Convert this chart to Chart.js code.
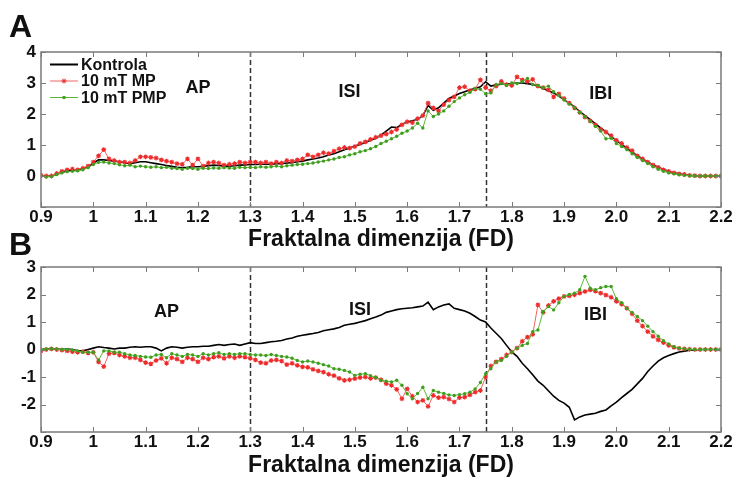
<!DOCTYPE html>
<html lang="en">
<head>
<meta charset="UTF-8" />
<title>Fraktalna dimenzija (FD)</title>
<script src="https://cdn.jsdelivr.net/npm/chart.js"></script>
<style>
  body { margin: 0; background: #fff; overflow: hidden; }
  .panel { position: absolute; left: 0; width: 732px; }
  #panelA { top: 0; height: 255px; }
  #panelB { top: 225px; height: 252px; }
</style>
</head>
<body>

<div class="panel" id="panelA"><canvas id="chartA"></canvas></div>
<div class="panel" id="panelB"><canvas id="chartB"></canvas></div>

<script>
  // fractal dimension grid (x)
  const fdValues = [
    0.90,0.91,0.92,0.93,0.94,0.95,0.96,0.97,0.98,0.99,
    1.00,1.01,1.02,1.03,1.04,1.05,1.06,1.07,1.08,1.09,
    1.10,1.11,1.12,1.13,1.14,1.15,1.16,1.17,1.18,1.19,
    1.20,1.21,1.22,1.23,1.24,1.25,1.26,1.27,1.28,1.29,
    1.30,1.31,1.32,1.33,1.34,1.35,1.36,1.37,1.38,1.39,
    1.40,1.41,1.42,1.43,1.44,1.45,1.46,1.47,1.48,1.49,
    1.50,1.51,1.52,1.53,1.54,1.55,1.56,1.57,1.58,1.59,
    1.60,1.61,1.62,1.63,1.64,1.65,1.66,1.67,1.68,1.69,
    1.70,1.71,1.72,1.73,1.74,1.75,1.76,1.77,1.78,1.79,
    1.80,1.81,1.82,1.83,1.84,1.85,1.86,1.87,1.88,1.89,
    1.90,1.91,1.92,1.93,1.94,1.95,1.96,1.97,1.98,1.99,
    2.00,2.01,2.02,2.03,2.04,2.05,2.06,2.07,2.08,2.09,
    2.10,2.11,2.12,2.13,2.14,2.15,2.16,2.17,2.18,2.19,
    2.20
  ];

  const xTickValues = [0.9,1.0,1.1,1.2,1.3,1.4,1.5,1.6,1.7,1.8,1.9,2.0,2.1,2.2];
  const xTickLabels = ['0.9','1','1.1','1.2','1.3','1.4','1.5','1.6','1.7','1.8','1.9','2.0','2.1','2.2'];
  const seriesNames = ['Kontrola', '10 mT MP', '10 mT PMP'];
  const boundaries = [1.3, 1.75];
  const regionNames = ['AP', 'ISI', 'IBI'];

  // panel A
  const kontrolaA = [
    0,0,0,0.05,0.12,0.17,0.19,0.20,0.23,0.30,
    0.42,0.52,0.52,0.50,0.48,0.46,0.43,0.40,0.43,0.46,
    0.46,0.43,0.40,0.37,0.34,0.31,0.28,0.27,0.28,0.30,
    0.30,0.31,0.33,0.35,0.34,0.32,0.32,0.33,0.35,0.36,
    0.37,0.37,0.38,0.38,0.38,0.40,0.40,0.42,0.43,0.46,
    0.48,0.52,0.55,0.58,0.62,0.68,0.72,0.78,0.85,0.90,
    0.97,1.02,1.08,1.15,1.22,1.32,1.45,1.58,1.56,1.66,
    1.74,1.78,1.82,1.95,2.28,2.12,2.20,2.35,2.50,2.58,
    2.66,2.72,2.78,2.82,2.88,3.04,2.90,2.94,2.96,2.97,
    2.98,3.00,3.00,2.98,2.95,2.90,2.82,2.75,2.68,2.58,
    2.46,2.35,2.22,2.08,1.95,1.82,1.68,1.55,1.42,1.28,
    1.15,1.02,0.90,0.78,0.66,0.55,0.45,0.36,0.28,0.21,
    0.15,0.10,0.07,0.04,0.02,0.01,0,0,0,0,
    0
  ];
  const mpA = [
    0.02,0,0,0.08,0.15,0.20,0.22,0.20,0.25,0.32,
    0.45,0.65,0.85,0.55,0.50,0.45,0.45,0.42,0.50,0.62,
    0.62,0.60,0.58,0.52,0.48,0.45,0.40,0.38,0.55,0.35,
    0.55,0.32,0.42,0.45,0.42,0.35,0.38,0.40,0.45,0.42,
    0.45,0.45,0.42,0.45,0.40,0.45,0.42,0.50,0.48,0.52,
    0.55,0.68,0.62,0.68,0.75,0.72,0.80,0.88,0.92,0.90,
    0.95,1.05,1.10,1.18,1.25,1.30,1.35,1.42,1.50,1.65,
    1.75,1.72,1.85,1.95,2.35,2.20,2.10,2.30,2.45,2.55,
    2.85,2.88,2.75,2.80,3.10,2.85,2.75,2.90,3.05,2.95,
    2.92,3.20,3.10,3.05,3.12,2.90,2.85,2.78,2.55,2.65,
    2.50,2.35,2.20,2.05,1.90,1.78,1.65,1.50,1.42,1.30,
    1.15,1.05,0.92,0.82,0.65,0.55,0.45,0.35,0.28,0.20,
    0.15,0.10,0.07,0.05,0.02,0.01,0,0,0,0,
    0
  ];
  const pmpA = [
    0,-0.03,-0.02,0.05,0.10,0.14,0.15,0.17,0.20,0.27,
    0.37,0.44,0.45,0.42,0.40,0.36,0.33,0.35,0.30,0.32,
    0.30,0.28,0.30,0.27,0.28,0.25,0.24,0.22,0.25,0.24,
    0.22,0.25,0.24,0.26,0.25,0.27,0.26,0.25,0.28,0.27,
    0.28,0.27,0.30,0.28,0.30,0.32,0.30,0.33,0.35,0.37,
    0.38,0.40,0.42,0.45,0.48,0.52,0.55,0.60,0.62,0.68,
    0.72,0.78,0.82,0.88,0.95,1.05,1.12,1.20,1.28,1.38,
    1.45,1.55,1.70,1.55,2.10,1.92,2.00,2.10,2.25,2.40,
    2.52,2.62,2.70,2.82,2.80,2.65,2.68,2.95,2.98,2.92,
    3.00,2.98,3.05,3.15,2.95,2.92,2.85,2.90,2.72,2.60,
    2.45,2.32,2.20,2.05,1.92,1.76,1.60,1.45,1.20,1.22,
    1.05,0.95,0.85,0.72,0.60,0.50,0.40,0.30,0.22,0.15,
    0.10,0.07,0.04,0.02,0.01,0,0,0,0,0,
    0
  ];

  // panel B
  const kontrolaB = [
    0,0.02,0.03,0.02,0,0.02,0,-0.05,-0.05,0,
    0.05,0.10,0.07,0.05,0.02,0.05,0.05,0.08,0.10,0.08,
    0.10,0.10,0.05,-0.05,0.05,0.10,0.08,0.05,0.08,0.10,
    0.10,0.12,0.12,0.15,0.18,0.15,0.18,0.20,0.15,0.20,
    0.25,0.22,0.22,0.25,0.28,0.30,0.33,0.38,0.42,0.48,
    0.52,0.55,0.58,0.62,0.68,0.72,0.75,0.80,0.88,0.92,
    0.95,1.00,1.05,1.12,1.18,1.25,1.35,1.40,1.45,1.48,
    1.50,1.52,1.55,1.58,1.72,1.45,1.55,1.62,1.66,1.50,
    1.45,1.40,1.32,1.20,1.07,1.00,0.78,0.59,0.40,0.15,
    -0.09,-0.25,-0.50,-0.70,-0.92,-1.15,-1.30,-1.50,-1.70,-1.85,
    -1.95,-2.10,-2.56,-2.45,-2.38,-2.35,-2.32,-2.25,-2.20,-2.05,
    -1.91,-1.75,-1.60,-1.45,-1.25,-1.05,-0.80,-0.60,-0.42,-0.30,
    -0.22,-0.15,-0.09,-0.06,-0.03,-0.02,0,0,0,0,
    0
  ];
  const mpB = [
    -0.05,0,0.02,0,-0.02,-0.05,-0.08,-0.10,-0.08,-0.12,
    -0.10,-0.45,-0.62,-0.15,-0.12,-0.20,-0.25,-0.30,-0.30,-0.38,
    -0.48,-0.52,-0.40,-0.32,-0.50,-0.30,-0.35,-0.45,-0.30,-0.35,
    -0.45,-0.30,-0.35,-0.28,-0.25,-0.32,-0.25,-0.30,-0.25,-0.28,
    -0.32,-0.38,-0.48,-0.50,-0.40,-0.38,-0.42,-0.55,-0.50,-0.58,
    -0.63,-0.65,-0.72,-0.78,-0.82,-0.90,-0.95,-1.05,-1.12,-1.10,
    -1.06,-1.02,-1.00,-1.05,-1.02,-1.10,-1.24,-1.30,-1.45,-1.79,
    -1.43,-1.70,-1.91,-1.85,-2.07,-1.67,-1.75,-1.73,-1.80,-1.91,
    -1.75,-1.73,-1.65,-1.55,-1.49,-1.00,-0.60,-0.45,-0.35,-0.20,
    -0.09,0.05,0.30,0.45,0.55,1.62,1.35,1.60,1.75,1.85,
    1.93,1.95,1.99,2.05,2.11,2.17,2.12,2.05,1.98,1.90,
    1.75,1.65,1.50,1.30,1.05,0.85,0.65,0.48,0.35,0.25,
    0.15,0.08,0.04,0.02,0.01,0,0,0,0,0,
    0
  ];
  const pmpB = [
    0,0.02,0.03,0.02,0,0,-0.02,-0.05,-0.10,-0.10,
    -0.10,-0.38,-0.05,-0.05,-0.10,-0.10,-0.15,-0.20,-0.22,-0.25,
    -0.27,-0.28,-0.20,-0.18,-0.30,-0.15,-0.20,-0.25,-0.18,-0.20,
    -0.25,-0.15,-0.20,-0.15,-0.12,-0.18,-0.15,-0.18,-0.15,-0.15,
    -0.18,-0.20,-0.20,-0.22,-0.18,-0.22,-0.25,-0.27,-0.32,-0.40,
    -0.45,-0.42,-0.45,-0.50,-0.55,-0.60,-0.70,-0.72,-0.76,-0.82,
    -0.94,-0.90,-0.88,-0.95,-1.02,-1.12,-1.15,-1.18,-1.12,-1.30,
    -1.61,-1.79,-1.60,-1.37,-1.79,-1.49,-1.55,-1.60,-1.65,-1.67,
    -1.64,-1.61,-1.55,-1.43,-1.20,-0.88,-0.70,-0.45,-0.40,-0.25,
    -0.09,0.05,0.15,0.22,0.65,0.71,1.38,1.56,1.44,1.70,
    1.93,2.00,2.05,2.17,2.66,2.23,2.17,2.25,2.29,2.29,
    1.85,1.70,1.50,1.35,1.20,1.05,0.85,0.65,0.48,0.32,
    0.20,0.10,0.05,0.02,0.01,0,0,0,0,0,
    0
  ];

  // region label anchor points (data coords)
  const regionPosA = [[1.20, 2.87], [1.49, 2.74], [1.97, 2.69]];
  const regionPosB = [[1.14, 1.39], [1.51, 1.46], [1.96, 1.28]];

  const FONT = "'Liberation Sans', Arial, sans-serif";
  const RED = '#ee2a2a';
  const RED_LINE = '#f26262';
  const GREEN = '#3f9e1e';
  const GREEN_LINE = '#5bb83a';
  const FRAME = '#7a7a7a';

  function toPoints(arr) {
    return arr.map((v, i) => ({ x: fdValues[i], y: v }));
  }

  function drawStar(ctx, x, y, r) {
    ctx.beginPath();
    ctx.moveTo(x - r, y); ctx.lineTo(x + r, y);
    ctx.moveTo(x, y - r); ctx.lineTo(x, y + r);
    ctx.moveTo(x - r * 0.7, y - r * 0.7); ctx.lineTo(x + r * 0.7, y + r * 0.7);
    ctx.moveTo(x - r * 0.7, y + r * 0.7); ctx.lineTo(x + r * 0.7, y - r * 0.7);
    ctx.stroke();
  }

  const panelDecor = {
    id: 'panelDecor',
    beforeDatasetsDraw(chart, args, opts) {
      const { ctx, chartArea, scales } = chart;
      ctx.save();
      ctx.strokeStyle = '#333';
      ctx.lineWidth = 1.5;
      ctx.setLineDash([5, 3]);
      boundaries.forEach(b => {
        const px = Math.round(scales.x.getPixelForValue(b)) + 0.5;
        ctx.beginPath();
        ctx.moveTo(px, chartArea.top);
        ctx.lineTo(px, chartArea.bottom);
        ctx.stroke();
      });
      ctx.restore();
    },
    afterDraw(chart, args, opts) {
      const { ctx, chartArea, scales } = chart;
      const { left, right, top, bottom } = chartArea;
      ctx.save();
      // frame
      ctx.strokeStyle = FRAME;
      ctx.lineWidth = 1.5;
      ctx.strokeRect(left, top, right - left, bottom - top);
      // inward ticks
      ctx.lineWidth = 1;
      ctx.beginPath();
      xTickValues.forEach(v => {
        const px = Math.round(scales.x.getPixelForValue(v)) + 0.5;
        ctx.moveTo(px, bottom); ctx.lineTo(px, bottom - 5);
        ctx.moveTo(px, top); ctx.lineTo(px, top + 5);
      });
      scales.y.ticks.forEach(t => {
        const py = Math.round(scales.y.getPixelForValue(t.value)) + 0.5;
        ctx.moveTo(left, py); ctx.lineTo(left + 5, py);
        ctx.moveTo(right, py); ctx.lineTo(right - 5, py);
      });
      ctx.stroke();

      // region labels
      ctx.fillStyle = '#111';
      ctx.font = 'bold 18px ' + FONT;
      ctx.textAlign = 'center';
      ctx.textBaseline = 'middle';
      opts.regions.forEach((p, i) => {
        ctx.fillText(regionNames[i], scales.x.getPixelForValue(p[0]), scales.y.getPixelForValue(p[1]) + 1);
      });

      // panel letter
      ctx.font = 'bold 32px ' + FONT;
      ctx.textAlign = 'left';
      ctx.textBaseline = 'alphabetic';
      ctx.fillText(opts.letter, 9, opts.letterY);

      // legend (panel A only)
      if (opts.legend) {
        const styles = [
          { line: '#000', width: 2, marker: null },
          { line: RED_LINE, width: 1, marker: 'star' },
          { line: GREEN_LINE, width: 1, marker: 'dot' }
        ];
        ctx.font = 'bold 16px ' + FONT;
        ctx.textBaseline = 'middle';
        seriesNames.forEach((name, i) => {
          const y = 64.5 + i * 16.5;
          const s = styles[i];
          ctx.strokeStyle = s.line;
          ctx.lineWidth = s.width;
          ctx.beginPath();
          ctx.moveTo(50, y); ctx.lineTo(78, y);
          ctx.stroke();
          if (s.marker === 'star') {
            ctx.strokeStyle = RED; ctx.lineWidth = 1;
            drawStar(ctx, 64, y, 2.5);
          } else if (s.marker === 'dot') {
            ctx.fillStyle = GREEN;
            ctx.beginPath(); ctx.arc(64, y, 1.8, 0, Math.PI * 2); ctx.fill();
          }
          ctx.fillStyle = '#111';
          ctx.fillText(name, 81, y + 1);
        });
      }
      ctx.restore();
    }
  };

  function makeChart(canvasId, series, cfg) {
    const ctx = document.getElementById(canvasId).getContext('2d');
    return new Chart(ctx, {
      type: 'line',
      data: {
        datasets: [
          {
            label: seriesNames[0],
            data: toPoints(series[0]),
            borderColor: '#000',
            borderWidth: 1.6,
            pointRadius: 0,
            tension: 0,
            order: 3
          },
          {
            label: seriesNames[1],
            data: toPoints(series[1]),
            borderColor: RED_LINE,
            borderWidth: 1,
            pointStyle: 'star',
            pointRadius: 2.4,
            pointBorderColor: RED,
            pointBackgroundColor: RED,
            pointBorderWidth: 1.1,
            tension: 0,
            order: 2
          },
          {
            label: seriesNames[2],
            data: toPoints(series[2]),
            borderColor: GREEN_LINE,
            borderWidth: 1,
            pointStyle: 'circle',
            pointRadius: 1.7,
            pointBorderWidth: 0,
            pointBackgroundColor: GREEN,
            tension: 0,
            order: 1
          }
        ]
      },
      options: {
        responsive: true,
        maintainAspectRatio: false,
        animation: false,
        events: [],
        layout: { padding: { top: cfg.padTop, right: 11, left: 0, bottom: 0 } },
        plugins: {
          legend: { display: false },
          tooltip: { enabled: false },
          panelDecor: { letter: cfg.letter, letterY: cfg.letterY, regions: cfg.regions, legend: cfg.legend }
        },
        scales: {
          x: {
            type: 'linear',
            min: 0.9,
            max: 2.2,
            afterBuildTicks: s => { s.ticks = xTickValues.map(v => ({ value: v })); },
            afterFit: s => { s.height = cfg.xHeight; s.paddingLeft = 0; s.paddingRight = 0; },
            grid: { display: false, drawTicks: false },
            border: { display: false },
            ticks: {
              autoSkip: false,
              maxRotation: 0,
              padding: 0,
              color: '#111',
              font: { family: FONT, size: 17, weight: 'bold' },
              callback: (v, i) => xTickLabels[i]
            },
            title: {
              display: true,
              text: 'Fraktalna dimenzija (FD)',
              color: '#111',
              font: { family: FONT, size: 23, weight: 'bold', lineHeight: 1 },
              padding: { top: 0, bottom: cfg.titlePad }
            }
          },
          y: {
            min: cfg.yMin,
            max: cfg.yMax,
            afterFit: s => { s.width = 41; },
            grid: { display: false, drawTicks: false },
            border: { display: false },
            ticks: {
              stepSize: 1,
              padding: 5,
              color: '#111',
              font: { family: FONT, size: 17, weight: 'bold' },
              callback: v => (v === cfg.yMin ? '' : String(v))
            }
          }
        }
      },
      plugins: [panelDecor]
    });
  }

  makeChart('chartA', [kontrolaA, mpA, pmpA], {
    letter: 'A', letterY: 37, regions: regionPosA, legend: true,
    padTop: 52, xHeight: 48, titlePad: 4, yMin: -1, yMax: 4
  });

  makeChart('chartB', [kontrolaB, mpB, pmpB], {
    letter: 'B', letterY: 30, regions: regionPosB, legend: false,
    padTop: 42, xHeight: 45, titlePad: 0, yMin: -3, yMax: 3
  });
</script>

</body>
</html>
